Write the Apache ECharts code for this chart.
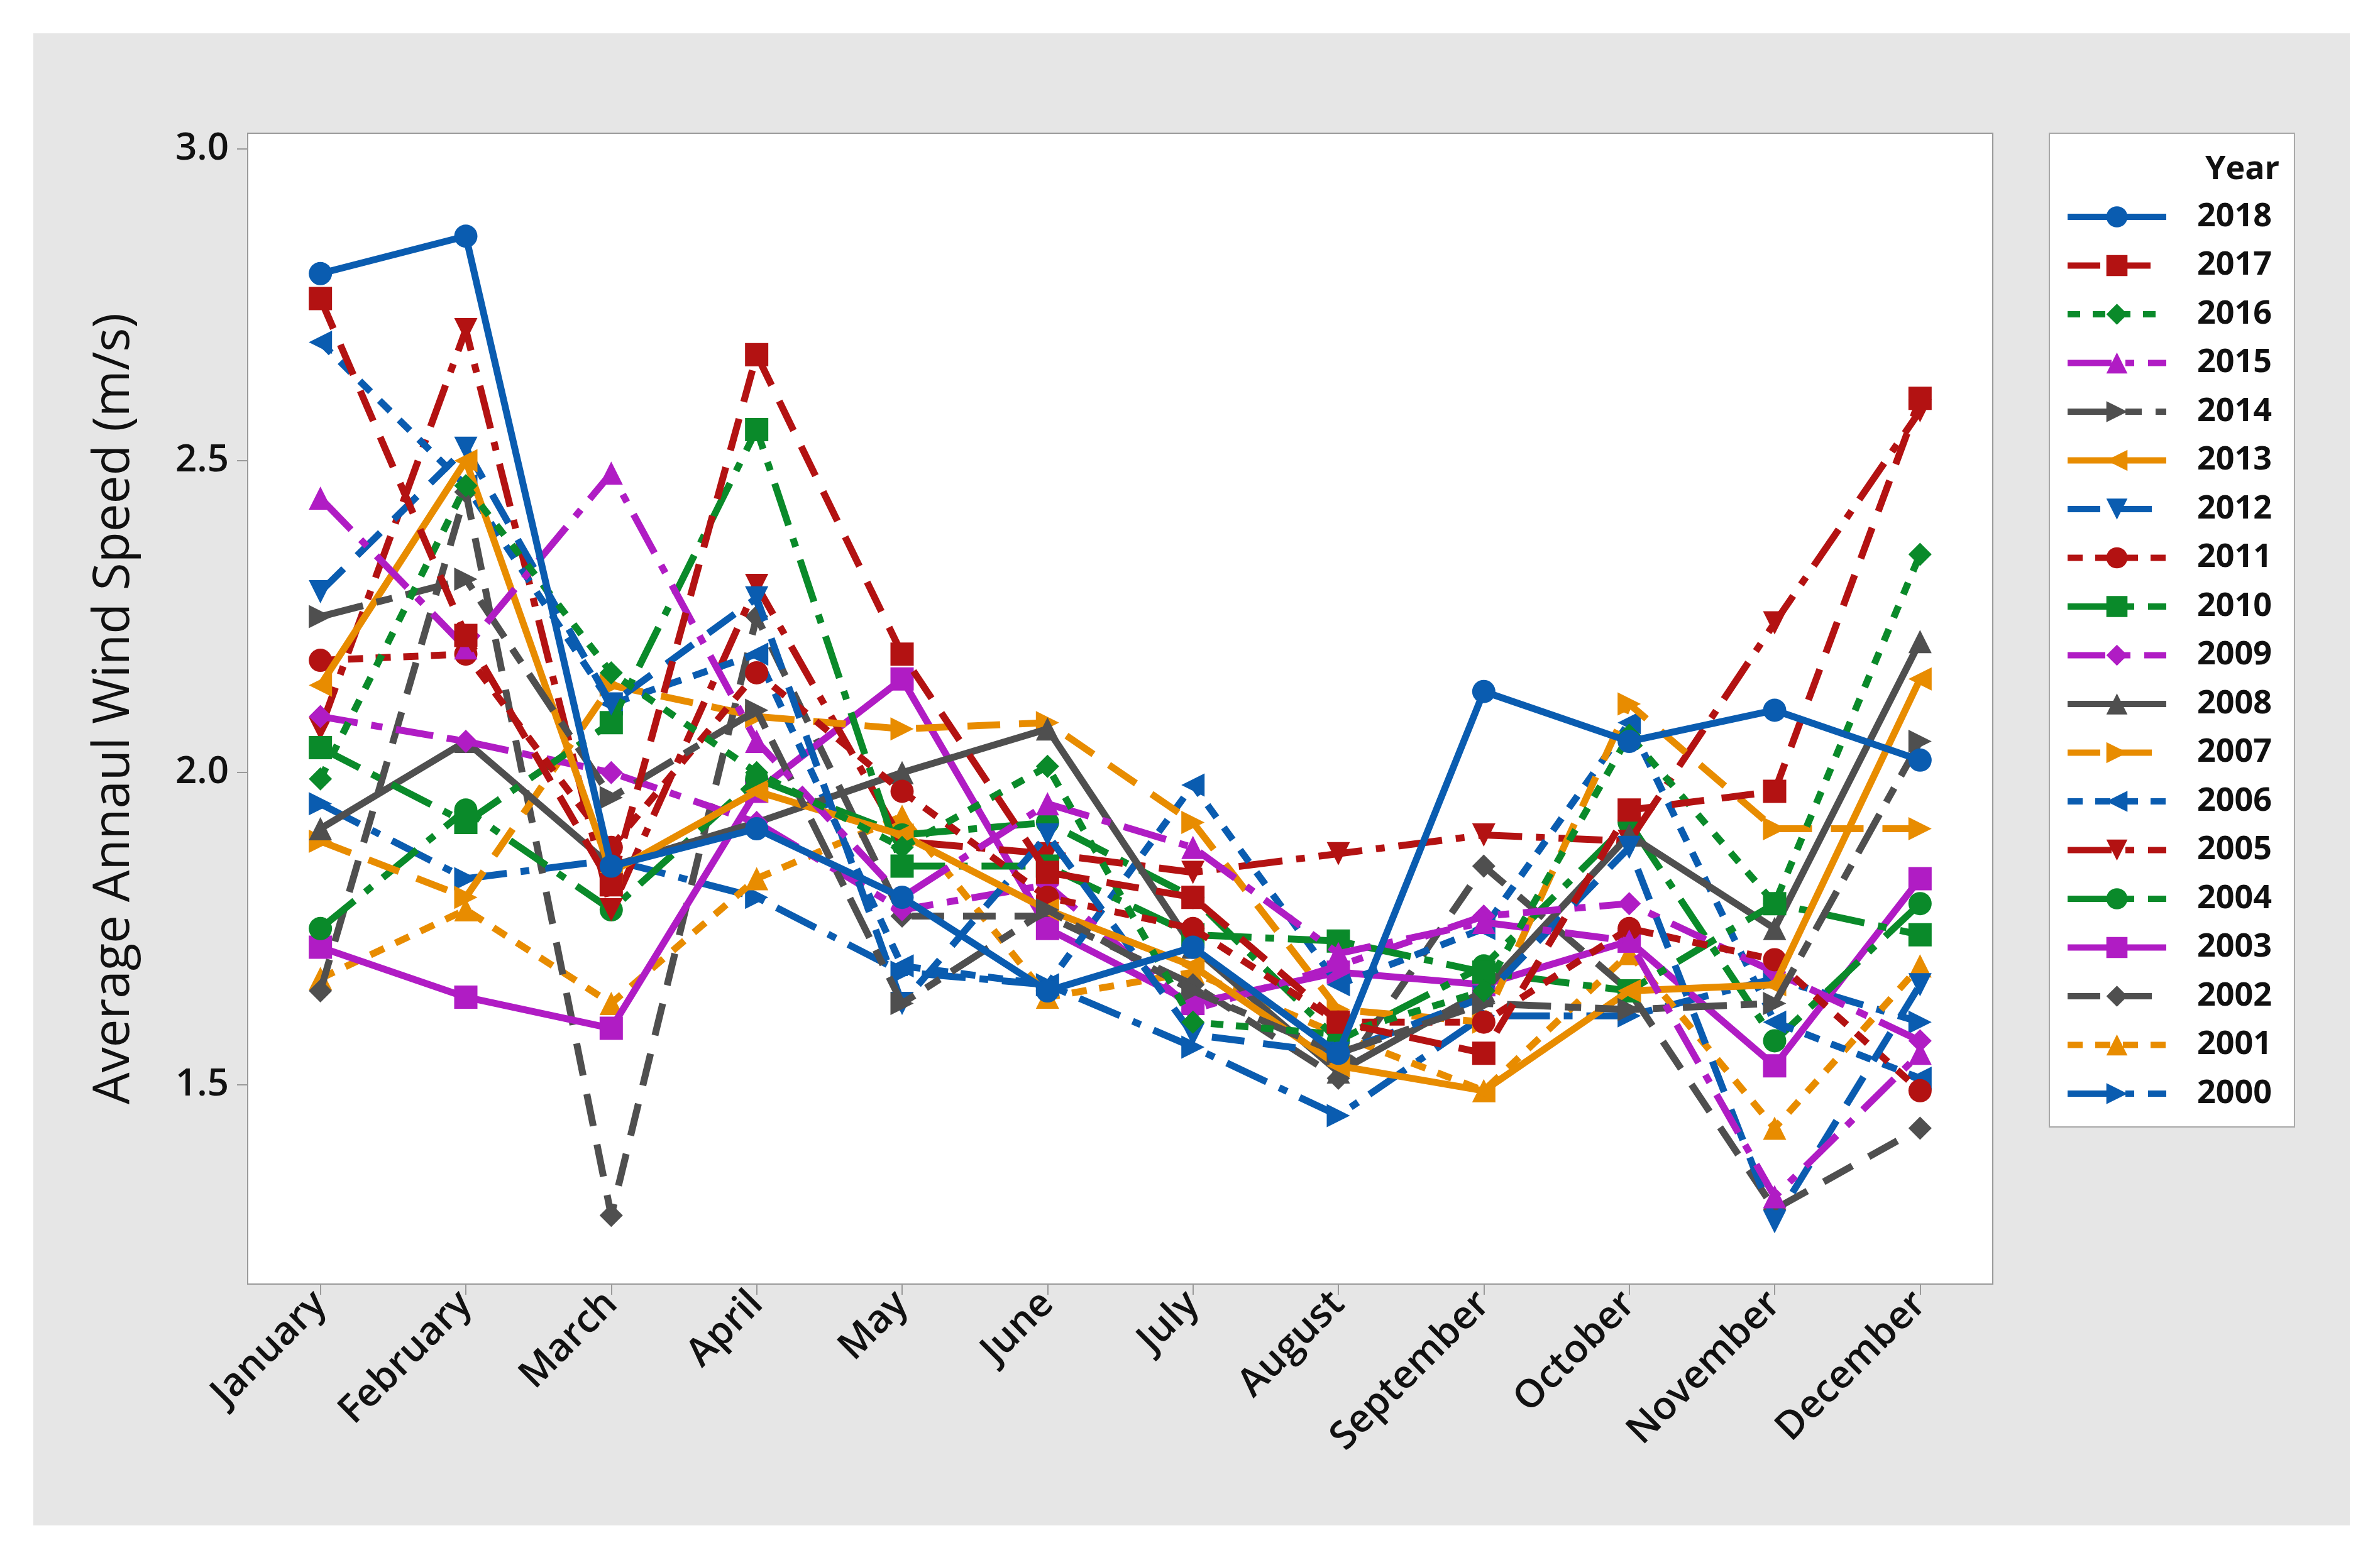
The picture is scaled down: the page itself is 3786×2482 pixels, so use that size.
<!DOCTYPE html>
<html><head><meta charset="utf-8">
<script src="https://cdn.jsdelivr.net/npm/echarts@6/dist/echarts.min.js"></script>
<style>
html,body{margin:0;padding:0;background:#fff;}
#bg{position:absolute;left:53px;top:53px;width:3685px;height:2374px;background:#e6e6e6;}
#c{position:absolute;left:0;top:0;width:3786px;height:2482px;}
</style>
</head><body><div id="bg"></div><div id="c"></div>
<script>
const months = ['January','February','March','April','May','June','July','August','September','October','November','December'];
const years = ['2018','2017','2016','2015','2014','2013','2012','2011','2010','2009','2008','2007','2006','2005','2004','2003','2002','2001','2000'];
const yTicks = [1.5, 2.0, 2.5, 3.0];

const v2018 = [2.80, 2.86, 1.85, 1.91, 1.80, 1.65, 1.72, 1.55, 2.13, 2.05, 2.10, 2.02];
const v2017 = [2.76, 2.22, 1.82, 2.67, 2.19, 1.84, 1.80, 1.60, 1.55, 1.94, 1.97, 2.60];
const v2016 = [1.99, 2.46, 2.16, 2.00, 1.88, 2.01, 1.60, 1.58, 1.65, 2.06, 1.79, 2.35];
const v2015 = [2.44, 2.20, 2.48, 2.05, 1.80, 1.95, 1.88, 1.71, 1.76, 1.73, 1.32, 1.55];
const v2014 = [2.25, 2.31, 1.96, 2.10, 1.63, 1.78, 1.65, 1.55, 1.63, 1.62, 1.63, 2.05];
const v2013 = [2.14, 2.50, 1.84, 1.97, 1.90, 1.78, 1.69, 1.53, 1.49, 1.65, 1.66, 2.15];
const v2012 = [2.29, 2.52, 2.11, 2.28, 1.63, 1.90, 1.58, 1.55, 1.64, 1.88, 1.28, 1.66];
const v2011 = [2.18, 2.19, 1.88, 2.16, 1.97, 1.80, 1.75, 1.60, 1.60, 1.75, 1.70, 1.49];
const v2010 = [2.04, 1.92, 2.08, 2.55, 1.85, 1.85, 1.74, 1.73, 1.68, 1.65, 1.79, 1.74];
const v2009 = [2.09, 2.05, 2.00, 1.92, 1.78, 1.82, 1.62, 1.69, 1.77, 1.79, 1.68, 1.57];
const v2008 = [1.91, 2.05, 1.85, 1.92, 2.00, 2.07, 1.72, 1.52, 1.65, 1.90, 1.75, 2.21];
const v2007 = [1.89, 1.80, 2.14, 2.09, 2.07, 2.08, 1.92, 1.62, 1.60, 2.11, 1.91, 1.91];
const v2006 = [2.69, 2.46, 2.11, 2.19, 1.69, 1.66, 1.98, 1.66, 1.75, 2.08, 1.60, 1.51];
const v2005 = [2.07, 2.71, 1.78, 2.30, 1.89, 1.87, 1.84, 1.87, 1.90, 1.89, 2.24, 2.58];
const v2004 = [1.75, 1.94, 1.78, 1.99, 1.90, 1.92, 1.80, 1.57, 1.69, 1.92, 1.57, 1.79];
const v2003 = [1.72, 1.64, 1.59, 1.97, 2.15, 1.75, 1.63, 1.68, 1.66, 1.73, 1.53, 1.83];
const v2002 = [1.65, 2.45, 1.29, 2.25, 1.77, 1.77, 1.66, 1.51, 1.85, 1.65, 1.30, 1.43];
const v2001 = [1.67, 1.78, 1.63, 1.83, 1.93, 1.64, 1.68, 1.58, 1.49, 1.71, 1.43, 1.69];
const v2000 = [1.95, 1.83, 1.86, 1.80, 1.68, 1.66, 1.56, 1.45, 1.61, 1.61, 1.67, 1.60];

const values = [v2018,v2017,v2016,v2015,v2014,v2013,v2012,v2011,v2010,v2009,v2008,v2007,v2006,v2005,v2004,v2003,v2002,v2001,v2000];

const BLUE='#0a5cb0', RED='#b31212', GREEN='#0a8a2a', MAG='#b01cc4', GRAY='#4f4f4f', ORANGE='#e88c00';
const colors = [BLUE,RED,GREEN,MAG,GRAY,ORANGE,BLUE,RED,GREEN,MAG,GRAY,ORANGE,BLUE,RED,GREEN,MAG,GRAY,ORANGE,BLUE];
const RT='path://M0,0L10,5L0,10Z', LT='path://M10,0L0,5L10,10Z', DT='path://M0,0L10,0L5,10Z';
const symbols = ['circle','rect','diamond','triangle',RT,LT,DT,'circle','rect','diamond','triangle',RT,LT,DT,'circle','rect','diamond','triangle',RT];
const dashes = [
  'solid',            //2018
  [52,28],            //2017
  [20,20],            //2016
  [70,22,14,22],      //2015
  [70,22,26,22],      //2014
  'solid',            //2013
  [52,30],            //2012
  [24,20],            //2011
  [70,22,14,22],      //2010
  [60,22,18,22],      //2009
  'solid',            //2008
  [52,30],            //2007
  [24,20],            //2006
  [70,22,14,22],      //2005
  [70,22,14,22],      //2004
  'solid',            //2003
  [52,30],            //2002
  [24,20],            //2001
  [70,22,14,22]       //2000
];

const series = years.map((y, i) => ({
  name: y,
  type: 'line',
  data: values[i],
  symbol: symbols[i],
  symbolSize: 37,
  showAllSymbol: true,
  color: colors[i],
  itemStyle: { color: colors[i] },
  lineStyle: { color: colors[i], width: 11, type: dashes[i] },
  z: 2 + (years.length - i),
  animation: false
}));

const chart = echarts.init(document.getElementById('c'), null, { renderer: 'canvas' });
const FONT = '"Open Sans", "Noto Sans", sans-serif';
chart.setOption({
  animation: false,
  textStyle: { fontFamily: FONT },
  grid: { left: 394, right: 616, top: 212, bottom: 439, show: true, backgroundColor: '#ffffff', borderColor: '#9a9a9a', borderWidth: 2 },
  xAxis: {
    type: 'category', data: months, boundaryGap: true,
    axisLine: { show: false },
    axisTick: { show: true, alignWithLabel: true, length: 17, inside: false, lineStyle: { color: '#9a9a9a', width: 2 } },
    axisLabel: { rotate: 45, fontSize: 62, fontWeight: 600, color: '#111', margin: 22, fontFamily: FONT },
    splitLine: { show: false }
  },
  yAxis: {
    type: 'value', min: 1.18, max: 3.025,
    name: 'Average Annaul Wind Speed (m/s)', nameLocation: 'middle', nameRotate: 90, nameGap: 172,
    nameTextStyle: { fontSize: 80, color: '#111', fontFamily: FONT },
    axisLine: { show: false },
    axisTick: { show: true, length: 17, customValues: yTicks, lineStyle: { color: '#9a9a9a', width: 2 } },
    axisLabel: { fontSize: 60, fontWeight: 600, color: '#111', margin: 30, customValues: yTicks, formatter: v => v.toFixed(1), fontFamily: FONT },
    splitLine: { show: false }
  },
  legend: {
    orient: 'vertical', left: 3260, top: 212,
    data: years,
    backgroundColor: '#ffffff', borderColor: '#a8a8a8', borderWidth: 2,
    padding: [107, 36, 27, 24],
    itemWidth: 157, itemHeight: 42, itemGap: 25.5,
    lineStyle: { width: 10 },
    textStyle: { fontSize: 52, fontWeight: 'bold', color: '#111', lineHeight: 48, padding: [0, 0, 0, 44], fontFamily: FONT },
    selectedMode: false
  },
  graphic: [
    { type: 'text', left: 3508, top: 244, style: { text: 'Year', fontSize: 52, fontWeight: 'bold', fill: '#111', fontFamily: FONT }, z: 100 }
  ],
  series: series
});
</script>
</body></html>
